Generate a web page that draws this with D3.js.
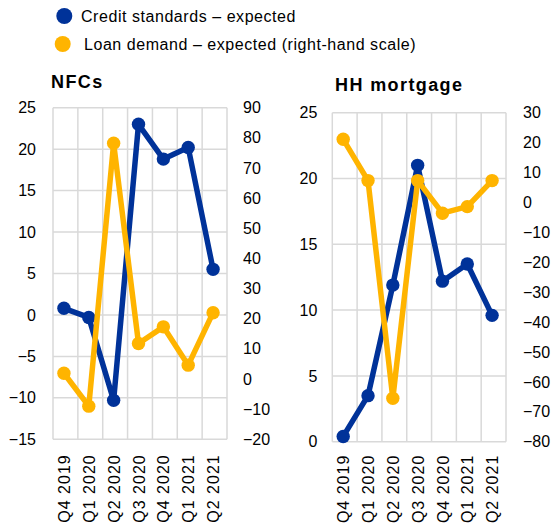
<!DOCTYPE html>
<html><head><meta charset="utf-8">
<script src="https://cdn.jsdelivr.net/npm/d3@7"></script>
<style>body{margin:0;background:#fff}svg{display:block;font-family:"Liberation Sans",Arial,sans-serif}</style>
</head><body>
<svg id="c" width="551" height="524"></svg>
<script>
const categories = ["Q4 2019","Q1 2020","Q2 2020","Q3 2020","Q4 2020","Q1 2021","Q2 2021"];
const nfcCredit = [0.8, -0.3, -10.3, 23.0, 18.8, 20.2, 5.5];
const nfcDemand = [1.9, -9.0, 78.2, 11.8, 17.3, 4.6, 22.0];
const hhCredit = [0.4, 3.5, 11.9, 21.0, 12.2, 13.5, 9.6];
const hhDemand = [21.1, 7.3, -65.5, 7.3, -3.6, -1.4, 7.3];
const nfcLeftTicks = [-15,-10,-5,0,5,10,15,20,25];
const nfcRightTicks = [-20,-10,0,10,20,30,40,50,60,70,80,90];
const hhLeftTicks = [0,5,10,15,20,25];
const hhRightTicks = [-80,-70,-60,-50,-40,-30,-20,-10,0,10,20,30];
const seriesNames = ["Credit standards \u2013 expected","Loan demand \u2013 expected (right-hand scale)"];
const titles = ["NFCs","HH mortgage"];

const BLUE = "#003299", ORANGE = "#FFB400", GRID = "#d9d9d9";
const svg = d3.select("#c");

// legend
const leg = svg.append("g");
seriesNames.forEach((n,i)=>{
  leg.append("circle").attr("cx", i?62.7:64.3).attr("cy", i?44:16).attr("r",8)
    .attr("fill", i?ORANGE:BLUE);
  leg.append("text").attr("x", i?84:81).attr("y", (i?44:16)+5.5).attr("font-size",16)
    .attr("letter-spacing",0.55).attr("fill","#000").text(n);
});

function panel(cfg){
  const g = svg.append("g");
  const x = d3.scaleBand().domain(categories).range([cfg.x0,cfg.x1]);
  const yl = d3.scaleLinear().domain([cfg.lt[0], cfg.lt[cfg.lt.length-1]]).range([cfg.y1,cfg.y0]);
  const yr = d3.scaleLinear().domain([cfg.rt[0], cfg.rt[cfg.rt.length-1]]).range([cfg.y1,cfg.y0]);
  // grid
  g.selectAll(".hg").data(cfg.lt).join("line")
    .attr("x1",cfg.x0).attr("x2",cfg.x1).attr("y1",d=>yl(d)).attr("y2",d=>yl(d))
    .attr("stroke",GRID).attr("stroke-width",1.5);
  const edges = categories.map(c=>x(c)).concat([cfg.x1]);
  g.selectAll(".vg").data(edges).join("line")
    .attr("x1",d=>d).attr("x2",d=>d).attr("y1",cfg.y0).attr("y2",cfg.y1)
    .attr("stroke",GRID).attr("stroke-width",1.5);
  // axes labels
  const la = g.append("g").attr("transform",`translate(${cfg.x0},0)`)
    .call(d3.axisLeft(yl).tickValues(cfg.lt).tickSize(0).tickPadding(cfg.lpad));
  const ra = g.append("g").attr("transform",`translate(${cfg.x1},0)`)
    .call(d3.axisRight(yr).tickValues(cfg.rt).tickSize(0).tickPadding(cfg.rpad));
  [la,ra].forEach(a=>{a.select(".domain").remove();
    a.selectAll("text").attr("font-size",16).attr("font-family","Liberation Sans, Arial, sans-serif").attr("fill","#000");});
  // x labels
  const xa = g.append("g").attr("transform",`translate(0,${cfg.y1})`)
    .call(d3.axisBottom(x).tickSize(0));
  xa.select(".domain").remove();
  xa.selectAll("text").attr("font-size",16).attr("font-family","Liberation Sans, Arial, sans-serif")
    .attr("fill","#000").attr("letter-spacing",1)
    .attr("transform",`rotate(-90)`).attr("text-anchor","end").attr("dy","0.35em").attr("dx",-cfg.xpad).attr("y",0).attr("x",0);
  xa.selectAll(".tick").attr("transform",d=>`translate(${x(d)+x.bandwidth()/2 - 1},0)`);
  // lines
  const series = [{v:cfg.c, s:yl, col:BLUE},{v:cfg.d, s:yr, col:ORANGE}];
  series.forEach(sr=>{
    const line = d3.line().x((d,i)=>x(categories[i])+x.bandwidth()/2 - 1.5).y(d=>sr.s(d));
    g.append("path").attr("d",line(sr.v)).attr("fill","none").attr("stroke",sr.col)
      .attr("stroke-width",5.5).attr("stroke-linejoin","round");
    g.selectAll(null).data(sr.v).join("circle")
      .attr("cx",(d,i)=>x(categories[i])+x.bandwidth()/2 - 1.5).attr("cy",d=>sr.s(d))
      .attr("r",6.7).attr("fill",sr.col);
  });
  g.append("text").attr("x",cfg.tx).attr("y",cfg.ty).attr("font-size",18).attr("font-weight","bold")
    .attr("letter-spacing",1.4).attr("fill","#000").text(cfg.title);
}

panel({x0:53,x1:227,y0:107.7,y1:439.3,lt:nfcLeftTicks,rt:nfcRightTicks,c:nfcCredit,d:nfcDemand,
  lpad:17,rpad:16,xpad:15,title:titles[0],tx:51,ty:88});
panel({x0:332.3,x1:506,y0:112.7,y1:441.7,lt:hhLeftTicks,rt:hhRightTicks,c:hhCredit,d:hhDemand,
  lpad:15,rpad:17,xpad:13,title:titles[1],tx:335,ty:91});
</script>
</body></html>
